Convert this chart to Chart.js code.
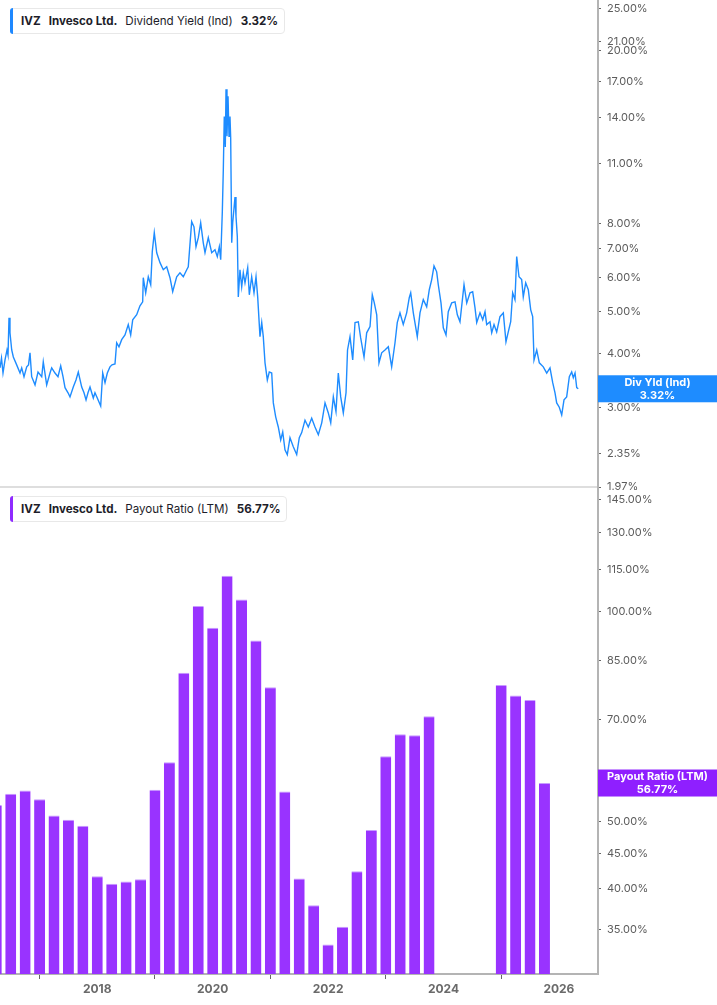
<!DOCTYPE html>
<html lang="en">
<head>
<meta charset="UTF-8" />
<title>IVZ Dividend Yield and Payout Ratio</title>
<style>
    body, html {
        margin: 0;
        padding: 0;
        background: #fff;
        font-family: Inter, "Noto Sans", sans-serif;
    }
    #page {
        position: relative;
        width: 717px;
        height: 1005px;
        overflow: hidden;
    }
    #yield-box {
        position: absolute;
        left: 0;
        top: 0;
        width: 717px;
        height: 500px;
    }
    #payout-box {
        position: absolute;
        left: 0;
        top: 487px;
        width: 717px;
        height: 518px;
    }
    .legend {
        position: absolute;
        left: 10px;
        height: 24px;
        padding: 0 6px 0 10px;
        display: flex;
        align-items: center;
        gap: 8px;
        background: #fff;
        border: 1px solid #e8e8e8;
        border-radius: 4px;
        font-size: 11.6px;
        color: #1d1d29;
        white-space: nowrap;
        z-index: 2;
    }
    .legend::before {
        content: "";
        position: absolute;
        left: -1px;
        top: -1px;
        bottom: -1px;
        width: 3px;
        border-radius: 3px 0 0 3px;
    }
    .legend.blue::before { background: #1e88ff; }
    .legend.purple::before { background: #8f2bff; }
    .legend b { font-weight: 700; }
</style>
</head>
<body>
<div id="page">
    <div id="yield-box"><canvas id="yield-chart"></canvas></div>
    <div id="payout-box"><canvas id="payout-chart"></canvas></div>
    <div class="legend blue" style="top: 8px;">
        <b>IVZ</b><b>Invesco Ltd.</b><span>Dividend Yield (Ind)</span><b>3.32%</b>
    </div>
    <div class="legend purple" style="top: 496px;">
        <b>IVZ</b><b>Invesco Ltd.</b><span>Payout Ratio (LTM)</span><b>56.77%</b>
    </div>
</div>
<script src="https://cdn.jsdelivr.net/npm/chart.js@4.4.0/dist/chart.umd.min.js"></script>
<script>
    // dividend yield (%), dates as decimal years
    const divYears = [
        2016.314, 2016.340, 2016.366, 2016.401, 2016.435, 2016.453, 2016.470, 2016.487, 2016.517, 2016.545,
        2016.603, 2016.661, 2016.690, 2016.730, 2016.777, 2016.808, 2016.834, 2016.863, 2016.921, 2016.973,
        2017.037, 2017.064, 2017.123, 2017.181, 2017.210, 2017.267, 2017.319, 2017.366, 2017.406, 2017.441,
        2017.493, 2017.527, 2017.584, 2017.631, 2017.671, 2017.730, 2017.770, 2017.805, 2017.839, 2017.874,
        2017.931, 2017.960, 2018.000, 2018.059, 2018.094, 2018.134, 2018.174, 2018.220, 2018.255, 2018.307,
        2018.336, 2018.376, 2018.423, 2018.480, 2018.537, 2018.579, 2018.614, 2018.683, 2018.740, 2018.787,
        2018.797, 2018.839, 2018.884, 2018.926, 2018.953, 2018.988, 2019.030, 2019.087, 2019.144, 2019.203,
        2019.260, 2019.307, 2019.376, 2019.433, 2019.491, 2019.550, 2019.577, 2019.636, 2019.676, 2019.711,
        2019.751, 2019.792, 2019.837, 2019.867, 2019.924, 2019.983, 2020.040, 2020.080, 2020.115, 2020.139,
        2020.167, 2020.184, 2020.201, 2020.219, 2020.231, 2020.248, 2020.266, 2020.283, 2020.300, 2020.312,
        2020.330, 2020.347, 2020.387, 2020.404, 2020.427, 2020.444, 2020.473, 2020.503, 2020.531, 2020.560,
        2020.607, 2020.635, 2020.676, 2020.716, 2020.751, 2020.780, 2020.820, 2020.850, 2020.877, 2020.907,
        2020.947, 2020.981, 2021.023, 2021.051, 2021.092, 2021.137, 2021.179, 2021.214, 2021.253, 2021.293,
        2021.340, 2021.397, 2021.456, 2021.501, 2021.543, 2021.600, 2021.657, 2021.716, 2021.773, 2021.831,
        2021.890, 2021.947, 2022.004, 2022.046, 2022.091, 2022.137, 2022.177, 2022.219, 2022.264, 2022.311,
        2022.337, 2022.380, 2022.427, 2022.467, 2022.524, 2022.565, 2022.623, 2022.669, 2022.727, 2022.766,
        2022.801, 2022.843, 2022.882, 2022.929, 2022.986, 2023.044, 2023.102, 2023.160, 2023.199, 2023.246,
        2023.303, 2023.362, 2023.407, 2023.432, 2023.477, 2023.546, 2023.593, 2023.650, 2023.709, 2023.754,
        2023.796, 2023.836, 2023.882, 2023.910, 2023.957, 2023.997, 2024.044, 2024.083, 2024.142, 2024.200,
        2024.240, 2024.286, 2024.333, 2024.356, 2024.403, 2024.460, 2024.506, 2024.546, 2024.576, 2024.633,
        2024.680, 2024.720, 2024.749, 2024.806, 2024.836, 2024.876, 2024.922, 2024.979, 2025.037, 2025.083,
        2025.123, 2025.165, 2025.199, 2025.239, 2025.269, 2025.309, 2025.355, 2025.383, 2025.425, 2025.470,
        2025.512, 2025.546, 2025.569, 2025.616, 2025.661, 2025.730, 2025.789, 2025.846, 2025.893, 2025.933,
        2025.962, 2026.007, 2026.049, 2026.089, 2026.135, 2026.181, 2026.222, 2026.250, 2026.280, 2026.309,
        2026.336
    ];
    const divYield = [
        3.71, 3.91, 3.61, 3.87, 4.08, 3.97, 4.84, 4.47, 4.08, 3.93,
        3.77, 3.61, 3.71, 3.54, 3.73, 3.77, 4.02, 3.54, 3.39, 3.63,
        3.54, 3.83, 3.39, 3.61, 3.71, 3.61, 3.54, 3.75, 3.54, 3.34,
        3.25, 3.18, 3.35, 3.48, 3.63, 3.35, 3.25, 3.13, 3.25, 3.35,
        3.16, 3.25, 3.16, 3.03, 3.61, 3.43, 3.61, 3.73, 3.77, 3.79,
        4.24, 4.15, 4.31, 4.42, 4.67, 4.42, 4.79, 4.92, 5.16, 5.27,
        5.99, 5.53, 6.02, 5.77, 6.88, 7.61, 6.84, 6.49, 6.25, 6.35,
        5.99, 5.56, 6.02, 6.15, 6.02, 6.25, 6.35, 8.07, 7.85, 7.06,
        7.41, 8.02, 7.21, 6.84, 7.41, 6.84, 6.95, 6.70, 7.06, 6.59,
        8.50, 10.6, 14.1, 12.0, 16.3, 12.7, 15.7, 12.7, 14.1, 12.6,
        7.21, 8.02, 9.20, 8.30, 7.45, 5.41, 6.25, 5.71, 6.15, 5.83,
        6.32, 5.47, 6.02, 5.53, 6.02, 5.41, 4.38, 4.72, 4.38, 3.81,
        3.48, 3.63, 3.61, 3.08, 2.86, 2.71, 2.53, 2.64, 2.40, 2.34,
        2.56, 2.44, 2.34, 2.56, 2.63, 2.81, 2.71, 2.84, 2.71, 2.60,
        2.77, 3.08, 2.92, 2.77, 3.18, 2.94, 3.61, 3.18, 2.92, 3.25,
        4.08, 4.38, 3.87, 4.72, 4.74, 4.35, 3.93, 4.47, 4.62, 5.47,
        5.24, 4.92, 3.81, 4.02, 4.08, 4.15, 3.73, 4.24, 4.72, 4.97,
        4.67, 4.97, 5.39, 5.53, 4.97, 4.38, 4.97, 5.33, 5.13, 5.62,
        5.93, 6.38, 6.18, 5.77, 5.24, 4.59, 4.42, 5.00, 5.24, 5.27,
        4.92, 4.74, 5.41, 5.77, 5.24, 5.53, 5.56, 5.11, 4.72, 4.97,
        4.79, 5.00, 4.67, 4.74, 4.47, 4.67, 4.49, 4.87, 4.97, 4.26,
        4.49, 4.74, 5.53, 5.33, 6.70, 6.02, 5.93, 5.41, 5.83, 5.62,
        5.05, 4.87, 3.87, 4.08, 3.81, 3.73, 3.61, 3.71, 3.43, 3.25,
        3.08, 3.01, 2.89, 3.13, 3.18, 3.54, 3.63, 3.52, 3.61, 3.34,
        3.32
    ];

    // payout ratio LTM (%), quarter ends as decimal years
    const payoutQuarters = [
        2016.25, 2016.5, 2016.75, 2017.0, 2017.25, 2017.5, 2017.75, 2018.0,
        2018.25, 2018.5, 2018.75, 2019.0, 2019.25, 2019.5, 2019.75, 2020.0,
        2020.25, 2020.5, 2020.75, 2021.0, 2021.25, 2021.5, 2021.75, 2022.0,
        2022.25, 2022.5, 2022.75, 2023.0, 2023.25, 2023.5, 2023.75, 2024.0,
        2024.25, 2024.5, 2024.75, 2025.0, 2025.25, 2025.5, 2025.75
    ];
    const payoutRatio = [
        52.8, 54.8, 55.4, 53.8, 51.0, 50.3, 49.3, 41.7,
        40.7, 41.0, 41.3, 55.5, 60.8, 81.7, 101.9, 94.8,
        112.6, 104.1, 90.9, 77.9, 55.2, 41.4, 37.9, 33.3,
        35.3, 42.4, 48.6, 62.0, 66.7, 66.5, 70.8, null,
        null, null, null, 78.5, 75.8, 74.7, 56.77
    ];

    const yieldTicks = [1.97, 2.35, 3, 4, 5, 6, 7, 8, 11, 14, 17, 20, 21, 25];
    const payoutTicks = [35, 40, 45, 50, 55, 70, 85, 100, 115, 130, 145];
    const yearTicks = [2018, 2020, 2022, 2024, 2026];

    const X_MIN = 2016.314;
    const X_MAX = 2026.678;
    const AXIS_W = 119;

    const tickFont = { family: "Inter", size: 11 };
    const pct = (v) => Number(v).toFixed(2) + "%";

    // value tag on the right axis at the last value
    const lastTag = {
        id: "lastTag",
        afterDraw(chart, args, opts) {
            const ctx = chart.ctx;
            const y = chart.scales.y.getPixelForValue(opts.value);
            const x0 = chart.chartArea.right;
            const w = chart.width - x0;
            const h = 27;
            ctx.save();
            ctx.fillStyle = opts.color;
            ctx.fillRect(x0, y - h / 2, w, h);
            ctx.fillStyle = "#fff";
            ctx.font = "bold 11px Inter";
            ctx.textAlign = "center";
            ctx.textBaseline = "middle";
            ctx.fillText(opts.title, x0 + w / 2, y - 6);
            ctx.fillText(pct(opts.value), x0 + w / 2, y + 6.5);
            ctx.restore();
        }
    };

    function rightAxis(min, max, ticks) {
        return {
            type: "logarithmic",
            position: "right",
            min: min,
            max: max,
            border: { display: true, color: "#b4b4b4", width: 2 },
            grid: { drawOnChartArea: false, tickLength: 3, color: "#666", tickWidth: 1 },
            ticks: {
                autoSkip: false,
                padding: 6,
                color: "#5c5c5c",
                font: tickFont,
                callback: (v) => pct(v),
            },
            afterBuildTicks: (axis) => {
                axis.ticks = ticks.map((v) => ({ value: v }));
            },
            afterFit: (axis) => {
                axis.width = AXIS_W;
                axis.paddingTop = 0;
                axis.paddingBottom = 0;
            },
        };
    }

    let yieldChart = new Chart(document.getElementById("yield-chart"), {
        type: "line",
        data: {
            datasets: [
                {
                    label: "Dividend Yield (Ind)",
                    data: divYears.map((x, i) => ({ x: x, y: divYield[i] })),
                    borderColor: "#1e8cff",
                    borderWidth: 1.4,
                    pointRadius: 0,
                    tension: 0,
                    fill: false,
                },
            ],
        },
        options: {
            responsive: true,
            maintainAspectRatio: false,
            animation: false,
            layout: { padding: 0 },
            plugins: {
                legend: { display: false },
                tooltip: { enabled: false },
                lastTag: { value: divYield[divYield.length - 1], title: "Div Yld (Ind)", color: "#1e8cff" },
            },
            scales: {
                x: {
                    type: "linear",
                    min: X_MIN,
                    max: X_MAX,
                    border: { display: true, color: "#dedede", width: 2 },
                    grid: { display: false },
                    ticks: { display: false },
                    afterFit: (axis) => {
                        axis.height = 13;
                        axis.paddingLeft = 0;
                        axis.paddingRight = 0;
                    },
                },
                y: rightAxis(1.97, 26.2, yieldTicks),
            },
        },
        plugins: [lastTag],
    });

    let payoutChart = new Chart(document.getElementById("payout-chart"), {
        type: "bar",
        data: {
            datasets: [
                {
                    label: "Payout Ratio (LTM)",
                    data: payoutQuarters.map((x, i) => ({ x: x, y: payoutRatio[i] })),
                    backgroundColor: "#9933ff",
                    borderColor: "#c79bff",
                    borderWidth: { top: 1, left: 0, right: 0, bottom: 0 },
                    borderSkipped: "bottom",
                    categoryPercentage: 0.8,
                    barPercentage: 0.95,
                },
            ],
        },
        options: {
            responsive: true,
            maintainAspectRatio: false,
            animation: false,
            layout: { padding: 0 },
            plugins: {
                legend: { display: false },
                tooltip: { enabled: false },
                lastTag: { value: payoutRatio[payoutRatio.length - 1], title: "Payout Ratio (LTM)", color: "#8f1fff" },
            },
            scales: {
                x: {
                    type: "linear",
                    min: X_MIN,
                    max: X_MAX,
                    offset: false,
                    border: { display: true, color: "#b4b4b4", width: 2 },
                    grid: { drawOnChartArea: false, tickLength: 5, color: "#666", tickWidth: 1 },
                    ticks: {
                        autoSkip: false,
                        maxRotation: 0,
                        padding: 3,
                        color: "#6a6a6a",
                        font: { family: "Inter", size: 12, weight: "bold" },
                        callback: (v) => String(v),
                    },
                    afterBuildTicks: (axis) => {
                        axis.ticks = yearTicks.map((v) => ({ value: v }));
                    },
                    afterFit: (axis) => {
                        axis.height = 31;
                        axis.paddingLeft = 0;
                        axis.paddingRight = 0;
                    },
                },
                y: rightAxis(30.2, 151, payoutTicks),
            },
        },
        plugins: [lastTag],
    });
</script>
</body>
</html>
